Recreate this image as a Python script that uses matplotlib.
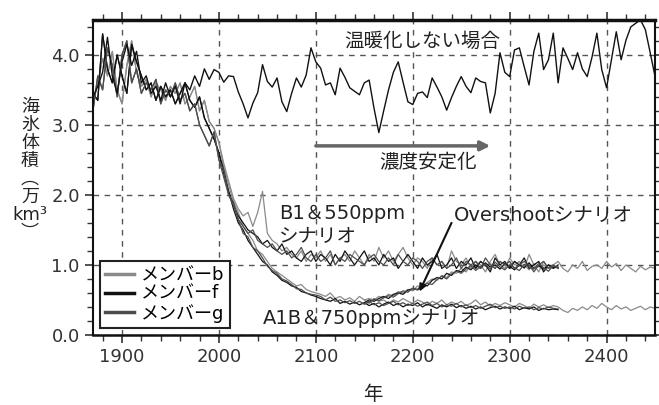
import matplotlib
matplotlib.use("Agg")
import matplotlib.pyplot as plt
from matplotlib.ticker import MultipleLocator, FormatStrFormatter
import numpy as np

plt.rcParams['font.family'] = ['DejaVu Sans', 'Noto Sans CJK JP']

# 温暖化しない場合 (control run), every 5 years from 1870
control = [
    3.40, 3.55, 3.75, 4.25, 3.70, 3.45, 3.90, 4.15, 3.85, 4.05,
    3.60, 3.70, 3.45, 3.55, 3.35, 3.60, 3.40, 3.55, 3.30, 3.60,
    3.50, 3.70, 3.55, 3.80, 3.65, 3.79, 3.75, 3.61, 3.70, 3.69,
    3.47, 3.30, 3.10, 3.31, 3.46, 3.86, 3.62, 3.54, 3.67, 3.33,
    3.19, 3.45, 3.67, 3.54, 3.71, 4.10, 3.90, 3.81, 3.57, 3.60,
    3.43, 3.81, 3.68, 3.53, 3.48, 3.43, 3.60, 3.64, 3.24, 2.89,
    3.20, 3.50, 3.75, 3.90, 3.61, 3.33, 3.29, 3.45, 3.47, 3.39,
    3.67, 3.54, 3.40, 3.21, 3.39, 3.55, 3.69, 3.55, 3.46, 3.67,
    3.62, 3.60, 3.17, 3.45, 4.03, 3.75, 3.69, 4.07, 4.10, 3.83,
    3.57, 4.05, 4.31, 3.79, 3.93, 4.31, 3.60, 4.10, 3.95, 3.79,
    4.03, 3.80, 3.69, 3.97, 4.31, 3.79, 3.53, 3.93, 4.33, 3.93,
    4.21, 4.40, 4.45, 4.50, 4.36, 4.03, 3.69,
]

# historical runs 1870-1995 (5-year steps)
hist = {
    'b': [3.30, 3.60, 3.95, 3.70, 4.05, 3.50, 3.30, 3.85, 4.20, 3.75,
          3.55, 3.65, 3.40, 3.60, 3.50, 3.35, 3.55, 3.45, 3.60, 3.30,
          3.40, 3.55, 3.20, 3.35, 3.05, 2.95],
    'f': [3.45, 3.35, 4.30, 3.80, 3.60, 4.00, 3.70, 3.45, 4.15, 3.90,
          3.70, 3.50, 3.60, 3.35, 3.55, 3.40, 3.50, 3.30, 3.45, 3.60,
          3.35, 3.25, 3.40, 3.10, 2.95, 2.80],
    'g': [3.20, 3.70, 3.50, 4.10, 3.85, 3.40, 4.00, 4.20, 3.60, 3.80,
          3.45, 3.60, 3.50, 3.65, 3.30, 3.50, 3.40, 3.60, 3.35, 3.45,
          3.20, 3.30, 3.00, 2.85, 2.70, 2.90],
}

# B1 & 550ppm, from 2000 (5-year steps)
b1 = {
    'b': [2.75, 2.45, 2.20, 1.95, 1.80, 1.70, 1.75, 1.55, 1.75, 2.05,
          1.45, 1.35, 1.30, 1.20, 1.25, 1.15, 1.10, 1.20, 1.05, 1.15,
          1.10, 1.20, 1.05, 1.15, 1.00, 1.10, 1.15, 1.05, 1.20, 1.10,
          1.00, 1.15, 1.05, 1.25, 1.10, 1.20, 1.05, 1.15, 1.25, 1.10,
          1.00, 1.10, 1.05, 0.95, 1.10, 1.00, 1.05, 0.95, 1.20, 1.05,
          1.00, 1.10, 0.95, 1.05, 1.00, 0.90, 1.05, 1.15, 1.00, 0.95,
          1.10, 1.00, 1.05, 0.95, 1.15, 1.00, 0.90, 1.05, 0.95, 1.00,
          1.05, 0.95, 0.90, 1.00, 0.95, 1.05, 0.92, 0.98, 1.00, 0.95,
          1.05, 0.97, 1.02, 0.92, 1.00, 0.95, 0.90, 0.98, 0.93, 0.97,
          0.95],
    'f': [2.60, 2.35, 2.05, 1.85, 1.70, 1.60, 1.50, 1.45, 1.40, 1.30,
          1.35, 1.25, 1.20, 1.30, 1.15, 1.20, 1.10, 1.05, 1.15, 1.20,
          1.05, 1.15, 1.10, 1.00, 1.15, 1.05, 1.20, 1.10, 1.00, 1.10,
          1.20, 1.05, 1.10, 1.00, 1.15, 1.05, 1.10, 0.95, 1.05, 1.15,
          1.05, 0.95, 1.10, 1.00, 1.05, 1.15, 0.95, 1.00, 1.10, 0.95,
          1.05, 1.00, 1.10, 0.95, 1.05, 1.00, 0.90, 1.10, 1.00, 1.05,
          0.95, 1.05, 1.00, 1.10, 0.95, 1.00, 1.05, 0.90, 1.00, 0.95,
          1.00],
    'g': [2.50, 2.25, 2.00, 1.90, 1.65, 1.55, 1.45, 1.50, 1.35, 1.30,
          1.25, 1.30, 1.20, 1.15, 1.20, 1.10, 1.15, 1.25, 1.10, 1.05,
          1.15, 1.05, 1.10, 1.20, 1.00, 1.10, 1.05, 1.15, 1.10, 1.05,
          1.00, 1.10, 1.15, 1.05, 1.00, 1.10, 1.00, 1.15, 1.05, 1.00,
          1.10, 1.05, 0.95, 1.05, 1.10, 1.00, 1.05, 0.95, 1.00, 1.10,
          0.95, 1.05, 1.00, 1.05, 0.95, 1.10, 1.00, 0.95, 1.05, 1.00,
          1.05, 0.95, 1.00, 1.05, 1.00, 0.90, 1.00, 1.05, 0.95, 1.00,
          0.95],
}

# A1B & 750ppm, from 2000
a1b = {
    'b': [2.75, 2.40, 2.15, 1.90, 1.75, 1.55, 1.45, 1.35, 1.20, 1.15,
          1.05, 0.95, 0.90, 0.85, 0.80, 0.75, 0.70, 0.72, 0.65, 0.62,
          0.60, 0.58, 0.55, 0.60, 0.52, 0.55, 0.50, 0.53, 0.48, 0.55,
          0.50, 0.45, 0.52, 0.48, 0.50, 0.45, 0.50, 0.47, 0.52, 0.48,
          0.45, 0.50, 0.47, 0.42, 0.48, 0.45, 0.50, 0.43, 0.47, 0.44,
          0.48, 0.42, 0.45, 0.50, 0.43, 0.47, 0.41, 0.45, 0.42, 0.46,
          0.43, 0.40, 0.45, 0.42, 0.38, 0.44, 0.40, 0.43, 0.39, 0.42,
          0.40, 0.35, 0.32, 0.38, 0.35, 0.40, 0.36, 0.42, 0.38, 0.45,
          0.40, 0.36, 0.42, 0.37, 0.40, 0.35, 0.38, 0.41, 0.36, 0.40,
          0.38],
    'f': [2.60, 2.30, 2.05, 1.80, 1.60, 1.50, 1.35, 1.25, 1.15, 1.05,
          1.00, 0.90, 0.85, 0.78, 0.75, 0.70, 0.68, 0.62, 0.60, 0.57,
          0.55, 0.52, 0.50, 0.48, 0.52, 0.45, 0.48, 0.44, 0.47, 0.43,
          0.46, 0.42, 0.45, 0.40, 0.44, 0.47, 0.42, 0.45, 0.40, 0.44,
          0.42, 0.46, 0.40, 0.44, 0.41, 0.38, 0.43, 0.40, 0.44, 0.39,
          0.42, 0.38, 0.41, 0.37, 0.40, 0.36, 0.39, 0.41, 0.37, 0.40,
          0.38, 0.41, 0.36, 0.39, 0.37, 0.40, 0.35, 0.38, 0.36, 0.37,
          0.36],
    'g': [2.50, 2.35, 2.00, 1.85, 1.65, 1.45, 1.40, 1.25, 1.20, 1.10,
          0.98, 0.92, 0.88, 0.80, 0.77, 0.72, 0.66, 0.65, 0.60, 0.58,
          0.57, 0.55, 0.50, 0.54, 0.48, 0.50, 0.46, 0.49, 0.45, 0.48,
          0.44, 0.48, 0.43, 0.46, 0.42, 0.45, 0.48, 0.43, 0.46, 0.42,
          0.45, 0.41, 0.44, 0.47, 0.42, 0.45, 0.40, 0.43, 0.41, 0.45,
          0.40, 0.43, 0.39, 0.42, 0.38, 0.41, 0.44, 0.39, 0.41, 0.38,
          0.40, 0.37, 0.41, 0.38, 0.40, 0.36, 0.39, 0.37, 0.40, 0.38,
          0.37],
}

# Overshoot, from 2150
overshoot = {
    'b': [0.50, 0.52, 0.50, 0.55, 0.53, 0.58, 0.56, 0.62, 0.60, 0.65,
          0.63, 0.70, 0.68, 0.75, 0.80, 0.78, 0.85, 0.82, 0.90, 0.88,
          0.95, 0.90, 1.00, 0.95, 1.05, 0.98, 1.02, 0.95, 1.05, 1.00,
          0.95, 1.05, 0.98, 1.00, 0.93, 1.02, 0.97, 1.00, 0.95, 0.98,
          0.95],
    'f': [0.46, 0.50, 0.48, 0.52, 0.55, 0.52, 0.58, 0.60, 0.58, 0.64,
          0.66, 0.65, 0.72, 0.70, 0.78, 0.82, 0.80, 0.88, 0.85, 0.92,
          0.90, 0.97, 0.93, 1.00, 0.95, 1.03, 0.97, 1.00, 0.94, 1.02,
          0.98, 0.93, 1.00, 0.96, 1.03, 0.95, 0.99, 0.94, 1.00, 0.96,
          0.97],
    'g': [0.44, 0.47, 0.51, 0.49, 0.53, 0.56, 0.54, 0.59, 0.63, 0.61,
          0.67, 0.64, 0.70, 0.74, 0.72, 0.79, 0.84, 0.80, 0.87, 0.91,
          0.88, 0.94, 0.99, 0.92, 0.98, 1.01, 0.94, 1.04, 0.97, 0.93,
          1.00, 0.96, 0.92, 1.01, 0.97, 0.94, 1.02, 0.96, 0.91, 0.99,
          0.96],
}

members = ['b', 'f', 'g']
member_colors = {'b': '#8a8a8a', 'f': '#111111', 'g': '#4d4d4d'}
legend_labels = ['メンバーb', 'メンバーf', 'メンバーg']


def yrs(start, values):
    return np.arange(start, start + 5 * len(values), 5)


fig = plt.figure(figsize=(6.59, 4.05), dpi=100)
ax = fig.add_axes([0.141, 0.173, 0.853, 0.778])

for m in members:
    c = member_colors[m]
    for scen in (b1, a1b):
        series = hist[m] + scen[m]
        ax.plot(yrs(1870, series), series, color=c, lw=0.9)
    ax.plot(yrs(2150, overshoot[m]), overshoot[m], color=c, lw=0.9)
ax.plot(yrs(1870, control), control, color='#111111', lw=1.0)

ax.set_xlim(1870, 2450)
ax.set_ylim(0, 4.5)
ax.xaxis.set_major_locator(MultipleLocator(100))
ax.xaxis.set_minor_locator(MultipleLocator(20))
ax.yaxis.set_major_locator(MultipleLocator(1.0))
ax.yaxis.set_minor_locator(MultipleLocator(0.2))
ax.yaxis.set_major_formatter(FormatStrFormatter('%.1f'))
ax.tick_params(which='both', direction='out', top=True, right=True,
               colors='#333333', labelsize=13)
ax.tick_params(which='major', length=6, width=1.2)
ax.tick_params(which='minor', length=4, width=1.0)
ax.grid(True, which='major', linestyle=(0, (4, 4)), color='#555555', lw=1.0)
for side, w in [('top', 2.5), ('bottom', 1.8), ('left', 1.5), ('right', 1.5)]:
    ax.spines[side].set_linewidth(w)
    ax.spines[side].set_color('#111111')

handles = [plt.Line2D([], [], color=member_colors[m], lw=2.5) for m in members]
leg = ax.legend(handles, legend_labels, loc='lower left',
                bbox_to_anchor=(0.012, 0.022), fontsize=13, frameon=True,
                fancybox=False, edgecolor='#222222', framealpha=1,
                handlelength=1.6, handletextpad=0.4, labelspacing=0.05,
                borderpad=0.3, borderaxespad=0)
leg.get_frame().set_linewidth(1.5)

tc = '#222222'
ax.text(2210, 4.19, '温暖化しない場合', fontsize=14, ha='center', va='center', color=tc)
ax.annotate('', xy=(2280, 2.70), xytext=(2100, 2.70),
            arrowprops=dict(arrowstyle='-|>', color='#666666', lw=2.5,
                            mutation_scale=14, shrinkA=0, shrinkB=0))
ax.text(2216, 2.46, '濃度安定化', fontsize=14, ha='center', va='center', color=tc)
ax.text(2062, 1.74, 'B1＆550ppm', fontsize=14, ha='left', va='center', color=tc)
ax.text(2062, 1.41, 'シナリオ', fontsize=14, ha='left', va='center', color=tc)
ax.text(2242, 1.71, 'Overshootシナリオ', fontsize=14, ha='left', va='center', color=tc)
ax.annotate('', xy=(2207, 0.62), xytext=(2240, 1.60),
            arrowprops=dict(arrowstyle='-|>', color='#111111', lw=1.5,
                            mutation_scale=10, shrinkA=0, shrinkB=0))
ax.text(2045, 0.24, 'A1B＆750ppmシナリオ', fontsize=14, ha='left', va='center', color=tc)

fig.text(30 / 659, 1 - 98 / 405, '海\n氷\n体\n積\n︵\n万\nkm³\n︶', fontsize=13,
         ha='center', va='top', linespacing=1.0, color=tc)
fig.text(373 / 659, 1 - 395 / 405, '年', fontsize=14, ha='center', va='center', color=tc)

fig.savefig('out.png', dpi=100)
